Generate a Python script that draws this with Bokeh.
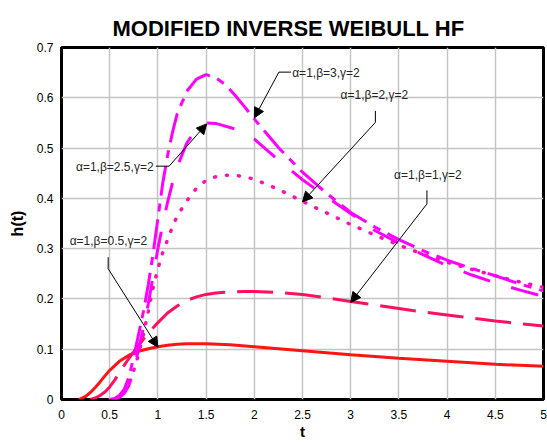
from bokeh.plotting import figure
from bokeh.models import Label, Arrow, NormalHead, Range1d, FixedTicker
from bokeh.embed import file_html
from bokeh.resources import INLINE

# ---- data ----
t_b05 = [0.18, 0.25, 0.3, 0.35, 0.4, 0.45, 0.5, 0.6, 0.7, 0.8, 0.9, 1.0, 1.1, 1.2, 1.3, 1.4, 1.5,
         1.75, 2.0, 2.25, 2.5, 2.75, 3.0, 3.5, 4.0, 4.5, 5.0]
h_b05 = [0.0, 0.006, 0.014, 0.024, 0.035, 0.047, 0.058, 0.076, 0.088, 0.096, 0.101, 0.105, 0.108,
         0.110, 0.111, 0.111, 0.111, 0.109, 0.105, 0.101, 0.097, 0.093, 0.089, 0.082, 0.076, 0.070, 0.066]

t_b1 = [0.3, 0.35, 0.4, 0.45, 0.5, 0.55, 0.6, 0.65, 0.7, 0.8, 0.9, 1.0, 1.1, 1.2, 1.3, 1.4, 1.5, 1.6,
        1.75, 1.9, 2.0, 2.25, 2.5, 2.75, 3.0, 3.25, 3.5, 3.75, 4.0, 4.5, 5.0]
h_b1 = [0.0, 0.003, 0.008, 0.015, 0.025, 0.038, 0.053, 0.068, 0.082, 0.108, 0.132, 0.153, 0.172, 0.186,
        0.197, 0.204, 0.209, 0.212, 0.214, 0.215, 0.215, 0.213, 0.209, 0.202, 0.195, 0.188, 0.181, 0.174,
        0.168, 0.156, 0.146]

t_b2 = [0.55, 0.6, 0.65, 0.7, 0.75, 0.8, 0.85, 0.9, 0.95, 1.0, 1.05, 1.1, 1.15, 1.2, 1.3, 1.4, 1.5, 1.6,
        1.7, 1.8, 1.9, 2.0, 2.25, 2.5, 2.75, 3.0, 3.25, 3.5, 3.75, 4.0, 4.25, 4.5, 4.75, 5.0]
h_b2 = [0.0, 0.006, 0.016, 0.034, 0.058, 0.09, 0.13, 0.175, 0.222, 0.26, 0.292, 0.318, 0.343, 0.365,
        0.395, 0.42, 0.436, 0.443, 0.446, 0.446, 0.443, 0.438, 0.418, 0.394, 0.371, 0.348, 0.327, 0.307,
        0.289, 0.273, 0.259, 0.246, 0.234, 0.223]

t_b25 = [0.55, 0.6, 0.65, 0.7, 0.75, 0.8, 0.85, 0.9, 0.95, 1.0, 1.05, 1.1, 1.15, 1.2, 1.3, 1.4, 1.5, 1.6,
         1.8, 2.0, 2.25, 2.5, 2.75, 3.0, 3.25, 3.5, 3.75, 4.0, 4.25, 4.5, 4.75, 5.0]
h_b25 = [0.0, 0.004, 0.012, 0.028, 0.06, 0.1, 0.143, 0.19, 0.245, 0.3, 0.348, 0.392, 0.43, 0.463, 0.51,
         0.538, 0.55, 0.549, 0.538, 0.518, 0.476, 0.437, 0.403, 0.37, 0.336, 0.311, 0.288, 0.266, 0.248,
         0.232, 0.218, 0.205]

t_b3 = [0.5, 0.55, 0.6, 0.65, 0.7, 0.75, 0.8, 0.85, 0.9, 0.95, 1.0, 1.05, 1.1, 1.15, 1.2, 1.3, 1.4, 1.5,
        1.6, 1.7, 1.8, 1.9, 2.0, 2.25, 2.5, 2.75, 3.0, 3.25, 3.5, 3.75, 4.0, 4.25, 4.5, 4.75, 5.0]
h_b3 = [0.0, 0.002, 0.008, 0.02, 0.045, 0.085, 0.13, 0.175, 0.228, 0.29, 0.36, 0.43, 0.485, 0.53, 0.568,
        0.613, 0.637, 0.646, 0.64, 0.626, 0.605, 0.582, 0.558, 0.501, 0.452, 0.41, 0.372, 0.343, 0.318,
        0.296, 0.277, 0.261, 0.246, 0.23, 0.216]

x_ticks = [0, 0.5, 1, 1.5, 2, 2.5, 3, 3.5, 4, 4.5, 5]
x_tick_labels = ["0", "0.5", "1", "1.5", "2", "2.5", "3", "3.5", "4", "4.5", "5"]
y_ticks = [0, 0.1, 0.2, 0.3, 0.4, 0.5, 0.6, 0.7]
y_tick_labels = ["0", "0.1", "0.2", "0.3", "0.4", "0.5", "0.6", "0.7"]

title_text = "MODIFIED INVERSE WEIBULL HF"
x_label = "t"
y_label = "h(t)"

# annotations: text, text anchor (t, h), align, leader start, elbow, arrow tip
notes = [
    ("\u03b1=1,\u03b2=3,\u03b3=2",   (2.393, 0.650), "left",   (2.38, 0.651),  (2.255, 0.651), (2.0, 0.560)),
    ("\u03b1=1,\u03b2=2,\u03b3=2",   (3.245, 0.605), "center", (3.256, 0.574), (3.256, 0.551), (2.5, 0.393)),
    ("\u03b1=1,\u03b2=1,\u03b3=2",   (3.80, 0.447),  "center", (3.791, 0.416), (3.791, 0.389), (3.0, 0.193)),
    ("\u03b1=1,\u03b2=2.5,\u03b3=2", (0.955, 0.462), "right",  (0.978, 0.464), (1.116, 0.464), (1.506, 0.548)),
    ("\u03b1=1,\u03b2=0.5,\u03b3=2", (0.487, 0.316), "center", (0.484, 0.283), (0.484, 0.260), (1.0, 0.104)),
]

FONT = "Liberation Sans"

p = figure(width=547, height=443, x_range=Range1d(0, 5), y_range=Range1d(0, 0.7),
           output_backend="svg", toolbar_location=None,
           min_border_left=61, min_border_right=4, min_border_top=47, min_border_bottom=44)
p.background_fill_color = "white"
p.border_fill_color = "white"
p.outline_line_color = "black"
p.outline_line_width = 3

p.title.text = title_text
p.title.text_font = FONT
p.title.text_font_size = "22px"
p.title.text_font_style = "bold"
p.title.text_color = "black"
p.title.align = "left"
p.title.offset = 51
p.title.standoff = 14

for ax in (p.xaxis, p.yaxis):
    ax.axis_line_color = None
    ax.major_tick_line_color = None
    ax.minor_tick_line_color = None
    ax.major_tick_out = 0
    ax.major_tick_in = 0
    ax.minor_tick_out = 0
    ax.minor_tick_in = 0
    ax.major_label_text_font = FONT
    ax.major_label_text_font_size = "12px"
    ax.major_label_text_color = "black"
    ax.axis_label_text_font = FONT
    ax.axis_label_text_font_style = "bold"
    ax.axis_label_text_color = "black"

p.xaxis.ticker = FixedTicker(ticks=x_ticks)
p.xaxis.major_label_overrides = dict(zip(x_ticks, x_tick_labels))
p.yaxis.ticker = FixedTicker(ticks=y_ticks)
p.yaxis.major_label_overrides = dict(zip(y_ticks, y_tick_labels))
p.xaxis.axis_label = x_label
p.yaxis.axis_label = y_label
p.xaxis.axis_label_text_font_size = "15px"
p.yaxis.axis_label_text_font_size = "16px"
p.xaxis.major_label_standoff = 10
p.xaxis.axis_label_standoff = 1
p.yaxis.major_label_standoff = 8
p.yaxis.axis_label_standoff = 8

p.xgrid.ticker = FixedTicker(ticks=x_ticks)
p.ygrid.ticker = FixedTicker(ticks=y_ticks)
p.grid.grid_line_color = "#c4c4c4"
p.grid.grid_line_width = 1.5

p.line(t_b05, h_b05, line_color="#ff1414", line_width=3)
p.line(t_b1, h_b1, line_color="#ff1060", line_width=3, line_dash="36 12")
p.line(t_b2, h_b2, line_color="#ff10b4", line_width=3.5, line_dash="1 11", line_cap="round")
p.line(t_b25, h_b25, line_color="#ff00ff", line_width=3, line_dash="28 22")
p.line(t_b3, h_b3, line_color="#ff00ff", line_width=3, line_dash="30 8 8 8")

for text, (tx, ty), align, start, elbow, tip in notes:
    p.add_layout(Label(x=tx, y=ty, text=text, text_align=align, text_baseline="middle",
                       text_font=FONT, text_font_size="12px", text_color="#262626"))
    p.segment(x0=[start[0]], y0=[start[1]], x1=[elbow[0]], y1=[elbow[1]],
              line_color="black", line_width=1)
    p.add_layout(Arrow(x_start=elbow[0], y_start=elbow[1], x_end=tip[0], y_end=tip[1],
                       line_color="black", line_width=1,
                       end=NormalHead(size=10, fill_color="black", line_color="black", line_width=1)))

open("out.html", "w").write(file_html(p, INLINE))
